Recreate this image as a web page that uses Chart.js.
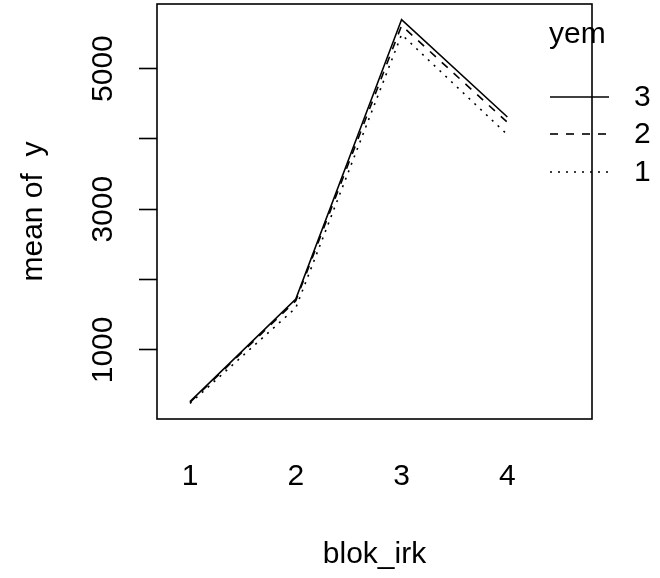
<!DOCTYPE html>
<html>
<head>
<meta charset="utf-8">
<script src="https://cdn.jsdelivr.net/npm/chart.js@4/dist/chart.umd.min.js"></script>
<style>
  html, body { margin: 0; padding: 0; background: #ffffff; }
  #wrap { width: 660px; height: 578px; }
</style>
</head>
<body>
<div id="wrap"><canvas id="chart" width="660" height="578"></canvas></div>
<script>
// blok_irk levels along the x axis
const blokIrk = [1, 2, 3, 4];
// mean of y for each level of yem
const yem3 = [265, 1722, 5697, 4312];
const yem2 = [255, 1700, 5612, 4236];
const yem1 = [240, 1598, 5484, 4060];
// y axis tick positions and the ones that carry a label
const yTicks = [1000, 2000, 3000, 4000, 5000];
const yTickLabels = [1000, 3000, 5000];
const legendTitle = 'yem';

const FONT = '"Liberation Sans", Arial, Helvetica, sans-serif';
const FS = 30;
const LW = 1.6;

function pts(vals) {
  return blokIrk.map((x, i) => ({ x: x, y: vals[i] }));
}

const series = [
  { label: '3', data: pts(yem3), dash: [] },
  { label: '2', data: pts(yem2), dash: [8, 8] },
  { label: '1', data: pts(yem1), dash: [2, 6] }
];

// Box, rotated y labels and the legend drawn on top of the chart
const decorations = {
  id: 'decorations',
  afterDraw(chart) {
    const ctx = chart.ctx;
    const a = chart.chartArea;
    const ys = chart.scales.y;
    ctx.save();
    ctx.strokeStyle = '#000';
    ctx.lineWidth = LW;
    ctx.strokeRect(a.left, a.top, a.right - a.left, a.bottom - a.top);

    ctx.fillStyle = '#000';
    ctx.font = FS + 'px ' + FONT;
    ctx.textAlign = 'center';
    ctx.textBaseline = 'alphabetic';
    yTickLabels.forEach(v => {
      const py = ys.getPixelForValue(v);
      ctx.save();
      ctx.translate(112, py);
      ctx.rotate(-Math.PI / 2);
      ctx.fillText(String(v), 0, 0);
      ctx.restore();
    });

    // legend
    ctx.textAlign = 'left';
    ctx.fillText(legendTitle, 549, 43);
    const rowY = [97, 134, 172];
    chart.data.datasets.forEach((ds, i) => {
      ctx.beginPath();
      ctx.setLineDash(ds.borderDash || []);
      ctx.lineWidth = ds.borderWidth;
      ctx.moveTo(550, rowY[i]);
      ctx.lineTo(609, rowY[i]);
      ctx.stroke();
      ctx.setLineDash([]);
      ctx.textBaseline = 'middle';
      ctx.fillText(ds.label, 634, rowY[i] + 1);
    });
    ctx.restore();
  }
};

new Chart(document.getElementById('chart'), {
  type: 'line',
  data: {
    datasets: series.map(s => ({
      label: s.label,
      data: s.data,
      borderColor: '#000',
      borderWidth: LW,
      borderDash: s.dash,
      pointRadius: 0,
      fill: false,
      tension: 0
    }))
  },
  options: {
    responsive: false,
    animation: false,
    layout: { padding: { top: 4, right: 68, left: 0, bottom: 0 } },
    plugins: { legend: { display: false }, tooltip: { enabled: false } },
    scales: {
      x: {
        type: 'linear',
        min: 0.688,
        max: 4.8,
        afterBuildTicks: s => { s.ticks = blokIrk.map(v => ({ value: v })); },
        afterFit: s => { s.height = 159; },
        grid: { display: false, drawTicks: false },
        border: { display: false },
        ticks: {
          color: '#000',
          font: { family: FONT, size: FS },
          padding: 40,
          maxRotation: 0,
          autoSkip: false
        },
        title: {
          display: true,
          text: 'blok_irk',
          color: '#000',
          font: { family: FONT, size: FS },
          padding: { top: 0, bottom: 5 }
        }
      },
      y: {
        type: 'linear',
        min: 18,
        max: 5918,
        afterBuildTicks: s => { s.ticks = yTicks.map(v => ({ value: v })); },
        afterFit: s => { s.width = 157; },
        grid: { drawOnChartArea: false, drawTicks: true, tickLength: 18, color: '#000', tickWidth: LW },
        border: { display: false },
        ticks: { display: false },
        title: {
          display: true,
          text: 'mean of  y',
          color: '#000',
          font: { family: FONT, size: FS },
          padding: { top: 16, bottom: 0 }
        }
      }
    }
  },
  plugins: [decorations]
});
</script>
</body>
</html>
